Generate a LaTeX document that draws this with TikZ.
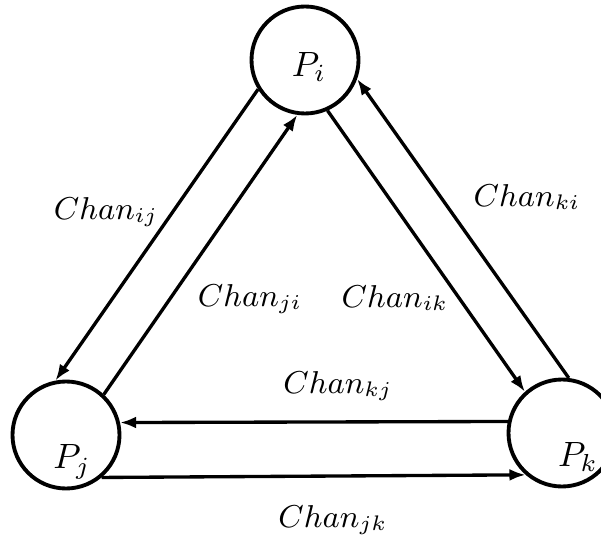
\documentclass[tikz,border=0pt]{standalone}
\usepackage{amsmath}
\usepackage{amssymb}
\usepackage{tikz}
\usetikzlibrary{arrows.meta}

\begin{document}
\begin{tikzpicture}[font=\small,
	proc/.style={draw,circle,line width=1.1pt,minimum size=1.07cm,inner sep=0pt},
	plabel/.style={font=\normalsize},
	chan/.style={line width=0.95pt,-{Latex[length=4.6pt,width=3.4pt]}}]
	\useasboundingbox (0cm,0cm) rectangle (6.01cm,5.37cm);
	% processes
	\node[proc] (pi) at (3.05cm, 4.77cm) {};
	\node[proc] (pj) at (0.66cm, 1.02cm) {};
	\node[proc] (pk) at (5.62cm, 1.04cm) {};
	\node[plabel] (pilabel) at (3.09cm, 4.70cm) {$P_i$};
	\node[plabel] (pjlabel) at (0.72cm, 0.75cm) {$P_j$};
	\node[plabel] (pklabel) at (5.78cm, 0.80cm) {$P_k$};
	% channels
	\draw[chan] (pi.212.5) -- (pj.101.3);
	\draw[chan] (pj.47.2) -- (pi.262.4);
	\draw[chan] (pi.294.4) -- (pk.132.2);
	\draw[chan] (pk.83.5) -- (pi.340.5);
	\draw[chan] (pk.168.7) -- (pj.13);
	\draw[chan] (pj.310.6) -- (pk.229.9);
	\node[] (cij) at (1.06cm, 3.25cm) {$Chan_{ij}$};
	\node[] (cji) at (2.50cm, 2.38cm) {$Chan_{ji}$};
	\node[] (cki) at (5.27cm, 3.40cm) {$Chan_{ki}$};
	\node[] (cik) at (3.95cm, 2.39cm) {$Chan_{ik}$};
	\node[] (ckj) at (3.38cm, 1.51cm) {$Chan_{kj}$};
	\node[] (cjk) at (3.33cm, 0.17cm) {$Chan_{jk}$};
\end{tikzpicture}
\end{document}
